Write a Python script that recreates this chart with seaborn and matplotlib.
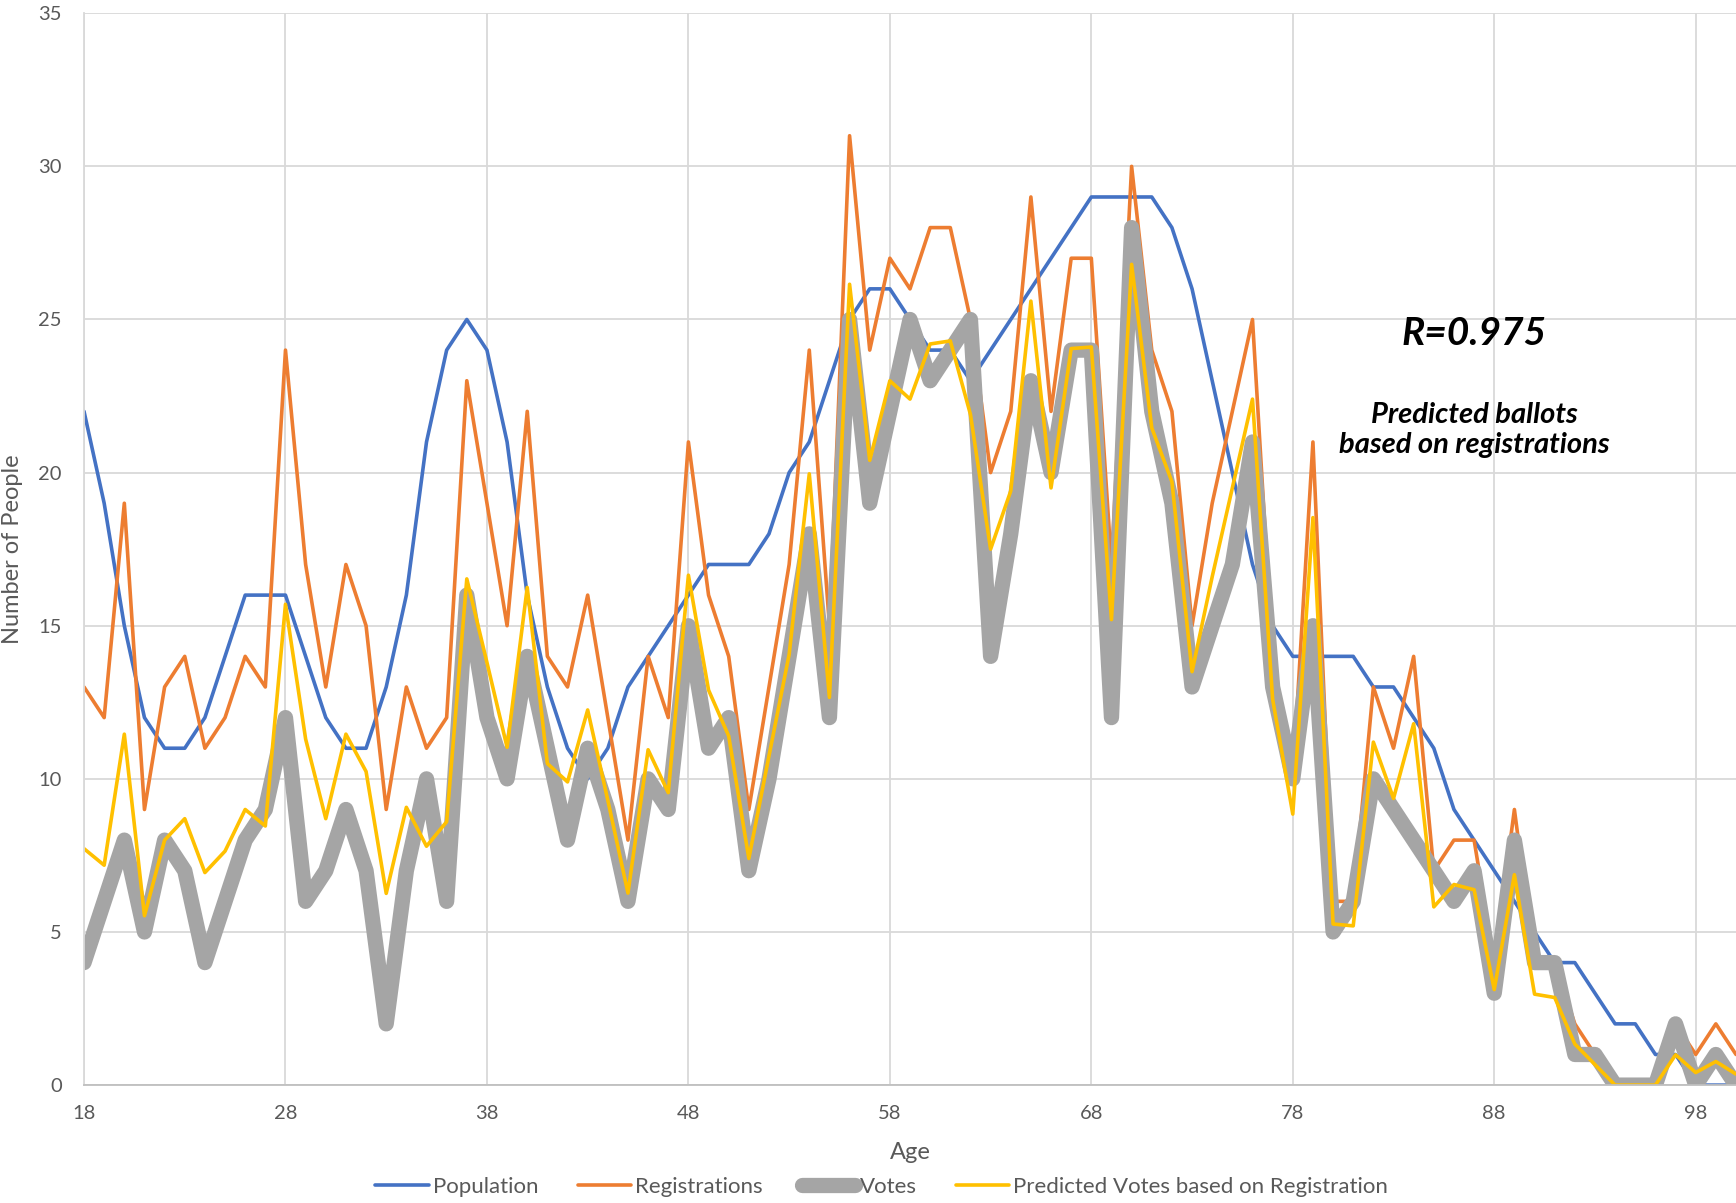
import numpy as np
import pandas as pd
import matplotlib
matplotlib.use("Agg")
import matplotlib.pyplot as plt
import seaborn as sns

# ages 18..100
ages = list(range(18, 101))

population = [22, 19, 15, 12, 11, 11, 12, 14, 16, 16,
              16, 14, 12, 11, 11, 13, 16, 21, 24, 25,
              24, 21, 16, 13, 11, 10, 11, 13, 14, 15,
              16, 17, 17, 17, 18, 20, 21, 23, 25, 26,
              26, 25, 24, 24, 23, 24, 25, 26, 27, 28,
              29, 29, 29, 29, 28, 26, 23, 20, 17, 15,
              14, 14, 14, 14, 13, 13, 12, 11, 9, 8,
              7, 6, 5, 4, 4, 3, 2, 2, 1, 1,
              0, 0, 0]

registrations = [13, 12, 19, 9, 13, 14, 11, 12, 14, 13,
                 24, 17, 13, 17, 15, 9, 13, 11, 12, 23,
                 19, 15, 22, 14, 13, 16, 12, 8, 14, 12,
                 21, 16, 14, 9, 13, 17, 24, 15, 31, 24,
                 27, 26, 28, 28, 25, 20, 22, 29, 22, 27,
                 27, 17, 30, 24, 22, 15, 19, 22, 25, 14,
                 10, 21, 6, 6, 13, 11, 14, 7, 8, 8,
                 4, 9, 4, 4, 2, 1, 0, 0, 0, 2,
                 1, 2, 1]

votes = [4, 6, 8, 5, 8, 7, 4, 6, 8, 9,
         12, 6, 7, 9, 7, 2, 7, 10, 6, 16,
         12, 10, 14, 11, 8, 11, 9, 6, 10, 9,
         15, 11, 12, 7, 10, 14, 18, 12, 25, 19,
         22, 25, 23, 24, 25, 14, 18, 23, 20, 24,
         24, 12, 28, 22, 19, 13, 15, 17, 21, 13,
         10, 15, 5, 6, 10, 9, 8, 7, 6, 7,
         3, 8, 4, 4, 1, 1, 0, 0, 0, 2,
         0, 1, 0]

predicted = [7.72, 7.18, 11.46, 5.53, 8.0, 8.7, 6.94, 7.64, 9.0, 8.46,
             15.7, 11.3, 8.7, 11.46, 10.24, 6.26, 9.07, 7.8, 8.6, 16.53,
             13.8, 11.03, 16.25, 10.5, 9.9, 12.25, 9.3, 6.27, 10.95, 9.55,
             16.65, 12.9, 11.4, 7.4, 10.75, 14.06, 19.96, 12.66, 26.15, 20.4,
             23.0, 22.4, 24.2, 24.3, 21.9, 17.5, 19.4, 25.6, 19.5, 24.05,
             24.1, 15.2, 26.8, 21.46, 19.7, 13.5, 16.6, 19.5, 22.4, 12.6,
             8.85, 18.53, 5.26, 5.2, 11.2, 9.36, 11.8, 5.82, 6.55, 6.38,
             3.12, 6.87, 2.97, 2.86, 1.34, 0.67, 0, 0, 0, 0.99,
             0.41, 0.77, 0.36]

df = pd.DataFrame({"Age": ages, "Population": population,
                   "Registrations": registrations, "Votes": votes,
                   "Predicted Votes based on Registration": predicted})

sns.set_theme(style="white")
plt.rcParams["font.family"] = ["Lato", "DejaVu Sans"]

fig = plt.figure(figsize=(17.36, 12.03), dpi=100)
ax = fig.add_axes([0.0484, 0.098, 0.9516, 0.891])

styles = [("Population", "#4472C4", 2.6),
          ("Registrations", "#ED7D31", 2.6),
          ("Votes", "#A5A5A5", 11),
          ("Predicted Votes based on Registration", "#FFC000", 2.6)]
for col, color, lw in styles:
    sns.lineplot(data=df, x="Age", y=col, ax=ax, color=color, linewidth=lw,
                 label=col, solid_joinstyle="round", solid_capstyle="round")

ax.set_xlim(18, 100)
ax.set_ylim(0, 35)
ax.set_xticks(range(18, 101, 10))
ax.set_yticks(range(0, 36, 5))
ax.grid(True, color="#D9D9D9", linewidth=1.3)
ax.set_axisbelow(True)
for s in ["top", "right"]:
    ax.spines[s].set_visible(False)
ax.spines["left"].set_color("#D9D9D9")
ax.spines["bottom"].set_color("#BFBFBF")
ax.spines["left"].set_linewidth(1.3)
ax.spines["bottom"].set_linewidth(1.3)
ax.tick_params(axis="both", length=0, labelsize=14.5, colors="#595959")
ax.tick_params(axis="y", pad=16)
ax.tick_params(axis="x", pad=14)
ax.set_xlabel("Age", fontsize=17, color="#595959", labelpad=15)
ax.set_ylabel("Number of People", fontsize=17, color="#595959", labelpad=11)

ax.text(87.0, 24.55, "R=0.975", fontsize=28, fontweight="bold", fontstyle="italic",
        ha="center", va="center", color="black")
ax.text(87.0, 21.4, "Predicted ballots\nbased on registrations", fontsize=21,
        fontweight="bold", fontstyle="italic", ha="center", va="center",
        color="black", linespacing=1.2)

ax.get_legend().remove()
handles, labels = ax.get_legend_handles_labels()
fig.legend(handles, labels, loc="center", bbox_to_anchor=(0.508, 0.0135),
           ncol=4, frameon=False, fontsize=16, handlelength=2.4,
           columnspacing=1.75, handletextpad=0.2, labelcolor="#595959")

fig.savefig("out.png", dpi=100)
